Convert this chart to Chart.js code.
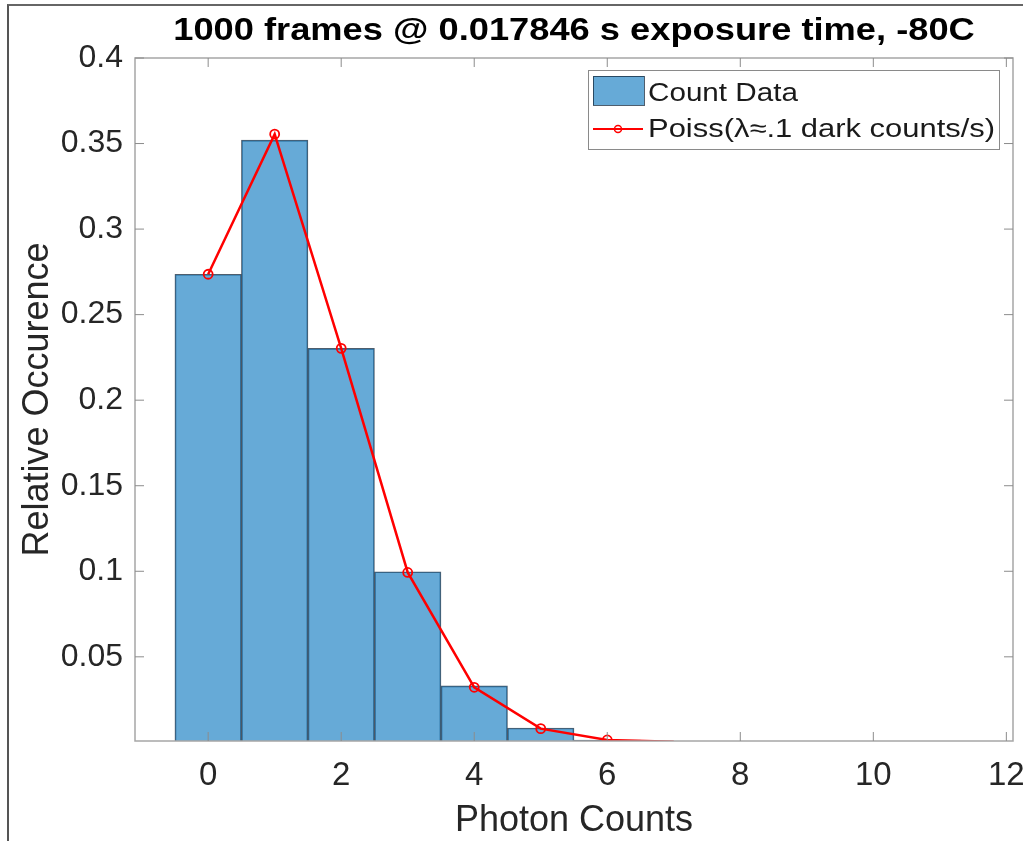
<!DOCTYPE html>
<html>
<head>
<meta charset="utf-8">
<script src="https://cdn.jsdelivr.net/npm/chart.js@4/dist/chart.umd.min.js"></script>
<style>
  body { margin: 0; background: #fff; }
  #wrap { position: relative; width: 1023px; height: 841px; }
  #frame { position: absolute; left: 7px; top: 4px; right: 0; bottom: 0;
           border-left: 2px solid #555; border-top: 2px solid #666; pointer-events: none; }
</style>
</head>
<body>
<div id="wrap">
  <canvas id="histChart" width="1023" height="841"></canvas>
  <div id="frame"></div>
</div>
<script>
// histogram of photon counts (relative occurence)
const photonCounts = [0, 1, 2, 3, 4, 5, 6];
const countData = [0.2736, 0.3520, 0.2303, 0.0997, 0.0330, 0.0084, 0.0013];
// poisson fit, last point has no marker visible (falls below the axis)
const poissX = [0, 1, 2, 3, 4, 5, 6, 7];
const poissY = [0.2736, 0.3555, 0.2303, 0.0993, 0.0322, 0.0080, 0.0014, 0.0003];
const xTicks = [0, 2, 4, 6, 8, 10, 12];
const yTicks = [0.05, 0.1, 0.15, 0.2, 0.25, 0.3, 0.35, 0.4];

const titleText = '1000 frames @ 0.017846 s exposure time, -80C';
const legendLabels = ['Count Data', 'Poiss(\u03bb\u2248.1 dark counts/s)'];

const FONT = '"Liberation Sans", Arial, Helvetica, sans-serif';
const BAR_FILL = 'rgba(0,114,189,0.6)';
const BAR_EDGE = 'rgba(20,40,60,0.75)';

// draw text a bit wider, the matlab export looks stretched
function wideText(ctx, txt, x, y, sx, align) {
  ctx.save();
  ctx.translate(x, y);
  ctx.scale(sx, 1);
  ctx.textAlign = align;
  ctx.fillText(txt, 0, 0);
  ctx.restore();
}

// matlab style box + inward ticks + title + legend
const matlabAxes = {
  id: 'matlabAxes',
  afterDraw(chart) {
    const ctx = chart.ctx;
    const a = chart.chartArea;
    const xs = chart.scales.x, ys = chart.scales.y;
    ctx.save();
    ctx.strokeStyle = '#a6a6a6';
    ctx.lineWidth = 1.5;
    ctx.strokeRect(a.left, a.top, a.right - a.left, a.bottom - a.top);
    ctx.beginPath();
    xTicks.forEach(v => {
      const px = xs.getPixelForValue(v);
      ctx.moveTo(px, a.bottom); ctx.lineTo(px, a.bottom - 9);
      ctx.moveTo(px, a.top); ctx.lineTo(px, a.top + 9);
    });
    yTicks.forEach(v => {
      const py = ys.getPixelForValue(v);
      ctx.moveTo(a.left, py); ctx.lineTo(a.left + 9, py);
      ctx.moveTo(a.right, py); ctx.lineTo(a.right - 9, py);
    });
    ctx.strokeStyle = '#8c8c8c';
    ctx.lineWidth = 1;
    ctx.stroke();

    // title
    ctx.fillStyle = '#000';
    ctx.font = 'bold 31px ' + FONT;
    ctx.textBaseline = 'middle';
    wideText(ctx, titleText, (a.left + a.right) / 2, 31, 1.17, 'center');

    // legend box
    const lx = 588, ly = 70, lw = 411, lh = 79;
    ctx.fillStyle = '#fff';
    ctx.fillRect(lx, ly, lw, lh);
    ctx.strokeStyle = '#8a8a8a';
    ctx.lineWidth = 1;
    ctx.strokeRect(lx + 0.5, ly + 0.5, lw, lh);
    ctx.fillStyle = BAR_FILL;
    ctx.fillRect(lx + 5, ly + 6, 51, 29);
    ctx.strokeStyle = BAR_EDGE;
    ctx.strokeRect(lx + 5.5, ly + 6.5, 51, 29);
    ctx.strokeStyle = '#ff0000';
    ctx.lineWidth = 2;
    ctx.beginPath();
    ctx.moveTo(lx + 5, ly + 59); ctx.lineTo(lx + 55, ly + 59);
    ctx.stroke();
    ctx.lineWidth = 1.5;
    ctx.beginPath();
    ctx.arc(lx + 30, ly + 59, 3.5, 0, Math.PI * 2);
    ctx.stroke();
    ctx.fillStyle = '#1a1a1a';
    ctx.font = '26px ' + FONT;
    wideText(ctx, legendLabels[0], lx + 60, ly + 24, 1.14, 'left');
    wideText(ctx, legendLabels[1], lx + 60, ly + 60, 1.19, 'left');
    ctx.restore();
  }
};

const ctx = document.getElementById('histChart').getContext('2d');
const histChart = new Chart(ctx, {
  data: {
    datasets: [{
      type: 'line',
      label: legendLabels[1],
      data: poissX.map((x, i) => ({ x: x, y: poissY[i] })),
      borderColor: '#ff0000',
      borderWidth: 2.5,
      pointRadius: poissX.map(x => x < 7 ? 4.5 : 0),
      pointBorderColor: '#ff0000',
      pointBorderWidth: 1.8,
      pointBackgroundColor: 'rgba(0,0,0,0)',
      tension: 0,
      order: 0
    }, {
      type: 'bar',
      label: legendLabels[0],
      data: photonCounts.map((x, i) => ({ x: x, y: countData[i] })),
      backgroundColor: BAR_FILL,
      borderColor: BAR_EDGE,
      borderWidth: 1,
      barPercentage: 1,
      categoryPercentage: 1,
      order: 1
    }]
  },
  options: {
    responsive: false,
    animation: false,
    layout: { padding: { left: 16, right: 10, top: 58, bottom: 0 } },
    plugins: {
      legend: { display: false },
      tooltip: { enabled: false },
      title: { display: false }
    },
    scales: {
      x: {
        type: 'linear',
        offset: false,
        min: -1.1,
        max: 12.1,
        afterBuildTicks: s => { s.ticks = xTicks.map(v => ({ value: v })); },
        afterFit: s => { s.height = 100; s.paddingRight = 0; s.paddingLeft = 0; },
        grid: { display: false, drawTicks: false },
        border: { display: false },
        ticks: { color: '#262626', font: { family: FONT, size: 33 }, padding: 15, maxRotation: 0 },
        title: {
          display: true,
          text: 'Photon Counts',
          color: '#262626',
          font: { family: FONT, size: 36, lineHeight: 1.1 },
          padding: { top: 0, bottom: 0 }
        }
      },
      y: {
        min: 0.0008,
        max: 0.4,
        afterBuildTicks: s => { s.ticks = yTicks.map(v => ({ value: v })); },
        afterFit: s => { s.width = 119; },
        grid: { display: false, drawTicks: false },
        border: { display: false },
        ticks: {
          color: '#262626',
          font: { family: FONT, size: 32 },
          padding: 12,
          callback: v => String(+v.toFixed(2))
        },
        title: {
          display: true,
          text: 'Relative Occurence',
          color: '#262626',
          font: { family: FONT, size: 36 },
          padding: { top: 0, bottom: 0 }
        }
      }
    }
  },
  plugins: [matlabAxes]
});
</script>
</body>
</html>
